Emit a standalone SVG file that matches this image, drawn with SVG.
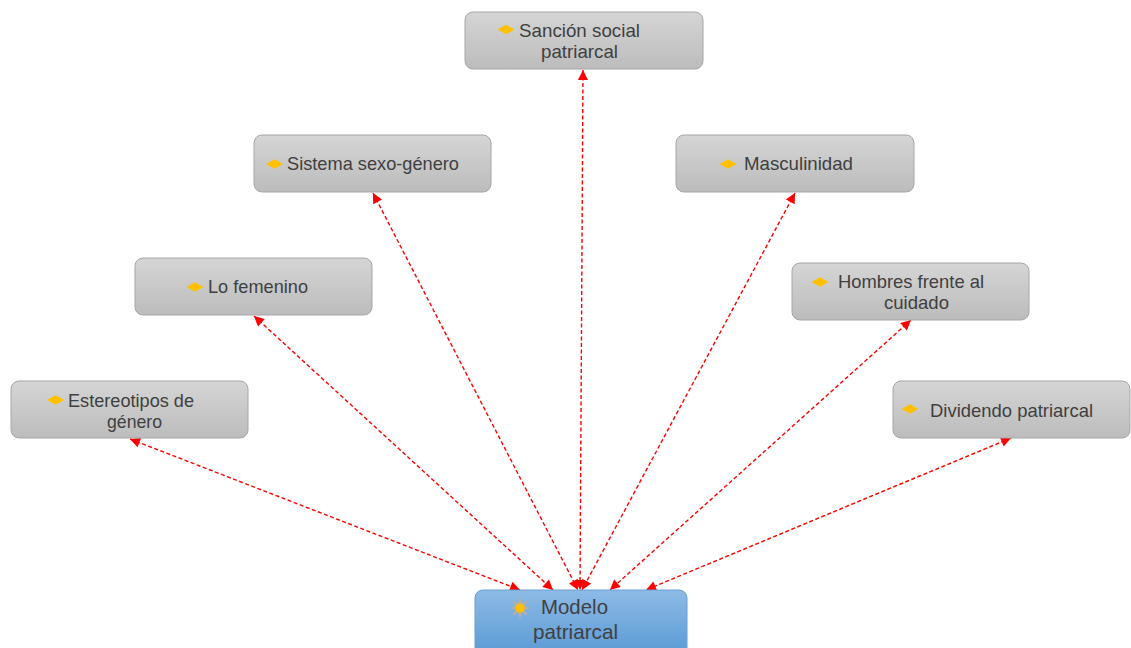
<svg xmlns="http://www.w3.org/2000/svg" width="1131" height="648" viewBox="0 0 1131 648">
<defs>
<linearGradient id="gGray" x1="0" y1="0" x2="0" y2="1">
<stop offset="0" stop-color="#d5d5d5"/>
<stop offset="1" stop-color="#bcbcbc"/>
</linearGradient>
<linearGradient id="gBlue" x1="0" y1="0" x2="0" y2="1">
<stop offset="0" stop-color="#8dbbe6"/>
<stop offset="1" stop-color="#5a99d4"/>
</linearGradient>
<marker id="ah" viewBox="0 0 10 10" refX="10" refY="5" markerWidth="12" markerHeight="10" markerUnits="userSpaceOnUse" orient="auto-start-reverse">
<path d="M0,0 L10,5 L0,10 z" fill="#ff0000"/>
</marker>
<path id="dia" d="M-8.5,0 L0,-4.8 L8.5,0 L0,4.8 z" fill="#ffc000"/>
</defs>
<style>
.box{fill:url(#gGray);stroke:#a6a6a6;stroke-width:1}
.t{font-family:"Liberation Sans",Arial,sans-serif;font-size:19px;fill:#404040}
.tb{font-family:"Liberation Sans",Arial,sans-serif;font-size:21px;fill:#404040}
.c{fill:none;stroke:#ff0000;stroke-width:1.4;stroke-dasharray:4,2.5;marker-start:url(#ah);marker-end:url(#ah)}
</style>
<rect width="1131" height="648" fill="#ffffff"/>
<g id="connectors">
<line class="c" x1="583" y1="70" x2="580" y2="590"/>
<line class="c" x1="373" y1="193" x2="578" y2="590"/>
<line class="c" x1="795" y1="193" x2="582" y2="590"/>
<line class="c" x1="254" y1="316" x2="553" y2="590"/>
<line class="c" x1="911" y1="320" x2="610" y2="590"/>
<line class="c" x1="130" y1="439" x2="520" y2="590"/>
<line class="c" x1="1011" y1="438" x2="646" y2="590"/>
</g>
<g id="n-sancion">
<rect class="box" x="465" y="12" width="238" height="57" rx="8"/>
<use href="#dia" x="506" y="29.5"/>
<text class="t" x="519" y="37" textLength="121" lengthAdjust="spacingAndGlyphs">Sanción social</text>
<text class="t" x="541" y="58" textLength="77" lengthAdjust="spacingAndGlyphs">patriarcal</text>
</g>
<g id="n-sistema">
<rect class="box" x="254" y="135" width="237" height="57" rx="8"/>
<use href="#dia" x="274.5" y="164"/>
<text class="t" x="287" y="170" textLength="172" lengthAdjust="spacingAndGlyphs">Sistema sexo-género</text>
</g>
<g id="n-masculinidad">
<rect class="box" x="676" y="135" width="238" height="57" rx="8"/>
<use href="#dia" x="728" y="164"/>
<text class="t" x="744" y="170" textLength="109" lengthAdjust="spacingAndGlyphs">Masculinidad</text>
</g>
<g id="n-femenino">
<rect class="box" x="135" y="258" width="237" height="57" rx="8"/>
<use href="#dia" x="195" y="287"/>
<text class="t" x="208" y="293" textLength="100" lengthAdjust="spacingAndGlyphs">Lo femenino</text>
</g>
<g id="n-hombres">
<rect class="box" x="792" y="263" width="237" height="57" rx="8"/>
<use href="#dia" x="820" y="282"/>
<text class="t" x="838" y="288" textLength="146" lengthAdjust="spacingAndGlyphs">Hombres frente al</text>
<text class="t" x="884" y="309" textLength="65" lengthAdjust="spacingAndGlyphs">cuidado</text>
</g>
<g id="n-estereotipos">
<rect class="box" x="11" y="381" width="237" height="57" rx="8"/>
<use href="#dia" x="55.5" y="400"/>
<text class="t" x="68" y="407" textLength="126" lengthAdjust="spacingAndGlyphs">Estereotipos de</text>
<text class="t" x="107" y="428" textLength="55" lengthAdjust="spacingAndGlyphs">género</text>
</g>
<g id="n-dividendo">
<rect class="box" x="893" y="381" width="237" height="57" rx="8"/>
<use href="#dia" x="910" y="409"/>
<text class="t" x="930" y="417" textLength="163" lengthAdjust="spacingAndGlyphs">Dividendo patriarcal</text>
</g>
<g id="n-modelo">
<rect x="475" y="590" width="212" height="66" rx="8" fill="url(#gBlue)" stroke="#6a9fd2" stroke-width="1"/>
<g transform="translate(520,608)">
<path d="M0,-11 L2,-4.5 L7.8,-7.8 L4.5,-2 L11,0 L4.5,2 L7.8,7.8 L2,4.5 L0,11 L-2,4.5 L-7.8,7.8 L-4.5,2 L-11,0 L-4.5,-2 L-7.8,-7.8 L-2,-4.5 z" fill="#b9b0a0"/>
<circle r="4.5" fill="#ffc000"/>
</g>
<text class="tb" x="541" y="614" textLength="67" lengthAdjust="spacingAndGlyphs">Modelo</text>
<text class="tb" x="533" y="639" textLength="85" lengthAdjust="spacingAndGlyphs">patriarcal</text>
</g>
</svg>
